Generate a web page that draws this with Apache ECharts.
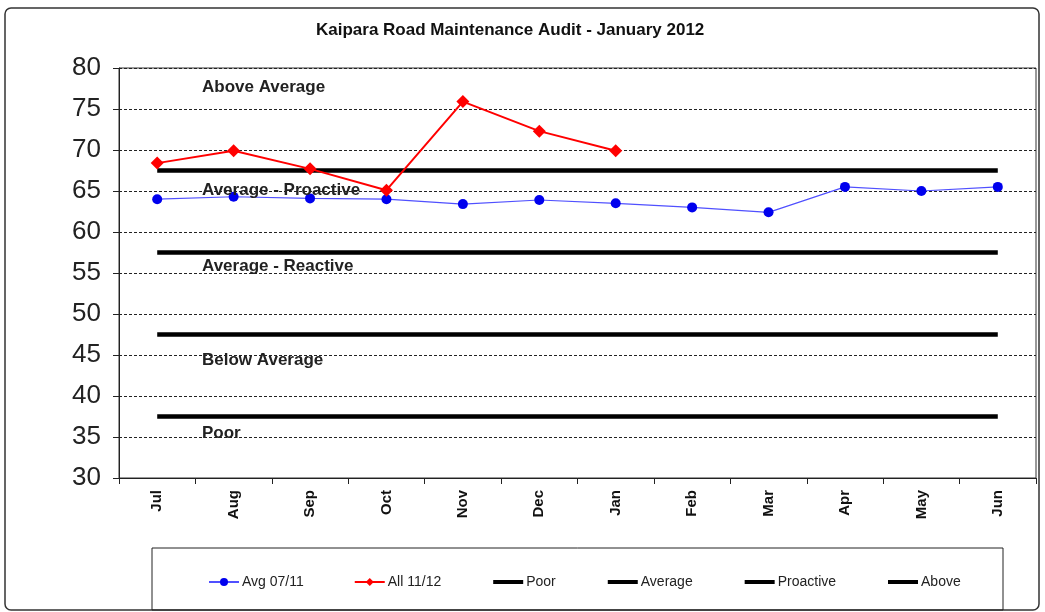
<!DOCTYPE html>
<html><head><meta charset="utf-8">
<script src="https://cdn.jsdelivr.net/npm/echarts@6/dist/echarts.min.js"></script>
<style>html,body{margin:0;padding:0;background:#fff}#c{width:1045px;height:612px}</style>
</head><body><div id="c"></div>
<script>
const months = ['Jul','Aug','Sep','Oct','Nov','Dec','Jan','Feb','Mar','Apr','May','Jun'];
const avg0711 = [64.0,64.3,64.1,64.0,63.4,63.9,63.5,63.0,62.4,65.5,65.0,65.5];
const all1112 = [68.4,69.9,67.7,65.1,75.9,72.3,69.9,null,null,null,null,null];
const poorLevel = 37.5, averageLevel = 47.5, proactiveLevel = 57.5, aboveLevel = 67.5;
const bandLabels = ['Above Average','Average - Proactive','Average - Reactive','Below Average','Poor'];
const yMin = 30, yMax = 80, yStep = 5;

const flat = v => months.map(() => v);
const chart = echarts.init(document.getElementById('c'), null, {renderer:'canvas'});
const bandTops = [79, 182, 258, 352, 425];
const lvl = (name, v) => ({
  name, type:'line', data: flat(v), symbol:'none', silent:true,
  lineStyle:{color:'#000', width:4.5}, itemStyle:{color:'#000'}, z:3
});
const blackLeg = name => ({name, itemStyle:{opacity:0}, lineStyle:{width:4, color:'#000'}});
chart.setOption({
  animation:false,
  title:{text:'Kaipara Road Maintenance Audit - January 2012', left:311, top:17,
    textStyle:{fontFamily:'Liberation Sans, Arial', fontWeight:'bold', fontSize:17, color:'#111'}},
  grid:{left:119, right:9, top:68, bottom:134, show:true, borderColor:'#333', borderWidth:1},
  xAxis:{type:'category', data:months, boundaryGap:true,
    axisLine:{lineStyle:{color:'#222', width:1}},
    axisTick:{show:true, length:6, lineStyle:{color:'#222'}},
    axisLabel:{rotate:90, fontFamily:'Liberation Sans, Arial', fontWeight:'bold', fontSize:15, color:'#111', margin:12}},
  yAxis:{type:'value', min:yMin, max:yMax, interval:yStep,
    axisLine:{show:true, lineStyle:{color:'#222', width:1}},
    axisTick:{show:true, length:6, lineStyle:{color:'#222'}},
    axisLabel:{fontFamily:'Liberation Sans, Arial', fontSize:26, color:'#222', margin:18},
    splitLine:{show:true, lineStyle:{color:'#222', type:[3,2], width:1}}},
  legend:{left:203, top:570, itemGap:50, itemWidth:30, itemHeight:10,
    textStyle:{fontFamily:'Liberation Sans Narrow, Liberation Sans, Arial', fontSize:14, color:'#222', padding:[0,0,0,-2]},
    data:['Avg 07/11','All 11/12', blackLeg('Poor'), blackLeg('Average'), blackLeg('Proactive'), blackLeg('Above')]},
  series:[
    lvl('Poor', poorLevel), lvl('Average', averageLevel), lvl('Proactive', proactiveLevel), lvl('Above', aboveLevel),
    {name:'Avg 07/11', type:'line', data:avg0711, symbol:'circle', symbolSize:10,
      lineStyle:{color:'#5050ff', width:1.2}, itemStyle:{color:'#0000ee'}, z:5},
    {name:'All 11/12', type:'line', data:all1112, symbol:'diamond', symbolSize:13,
      lineStyle:{color:'#ff0000', width:2}, itemStyle:{color:'#ff0000'}, z:6}
  ],
  graphic:[
    {type:'rect', shape:{x:5, y:8, width:1034, height:602, r:6}, style:{fill:null, stroke:'#333', lineWidth:1.5}, silent:true, z:-1},
    {type:'rect', shape:{x:152, y:548, width:851, height:62}, style:{fill:null, stroke:'#222', lineWidth:1}, silent:true},
    ...bandLabels.map((t,i) => ({type:'text', left:202, top:bandTops[i], z:100,
      style:{text:t, font:'bold 17px "Liberation Sans", Arial', fill:'#222'}}))
  ]
});
</script></body></html>
